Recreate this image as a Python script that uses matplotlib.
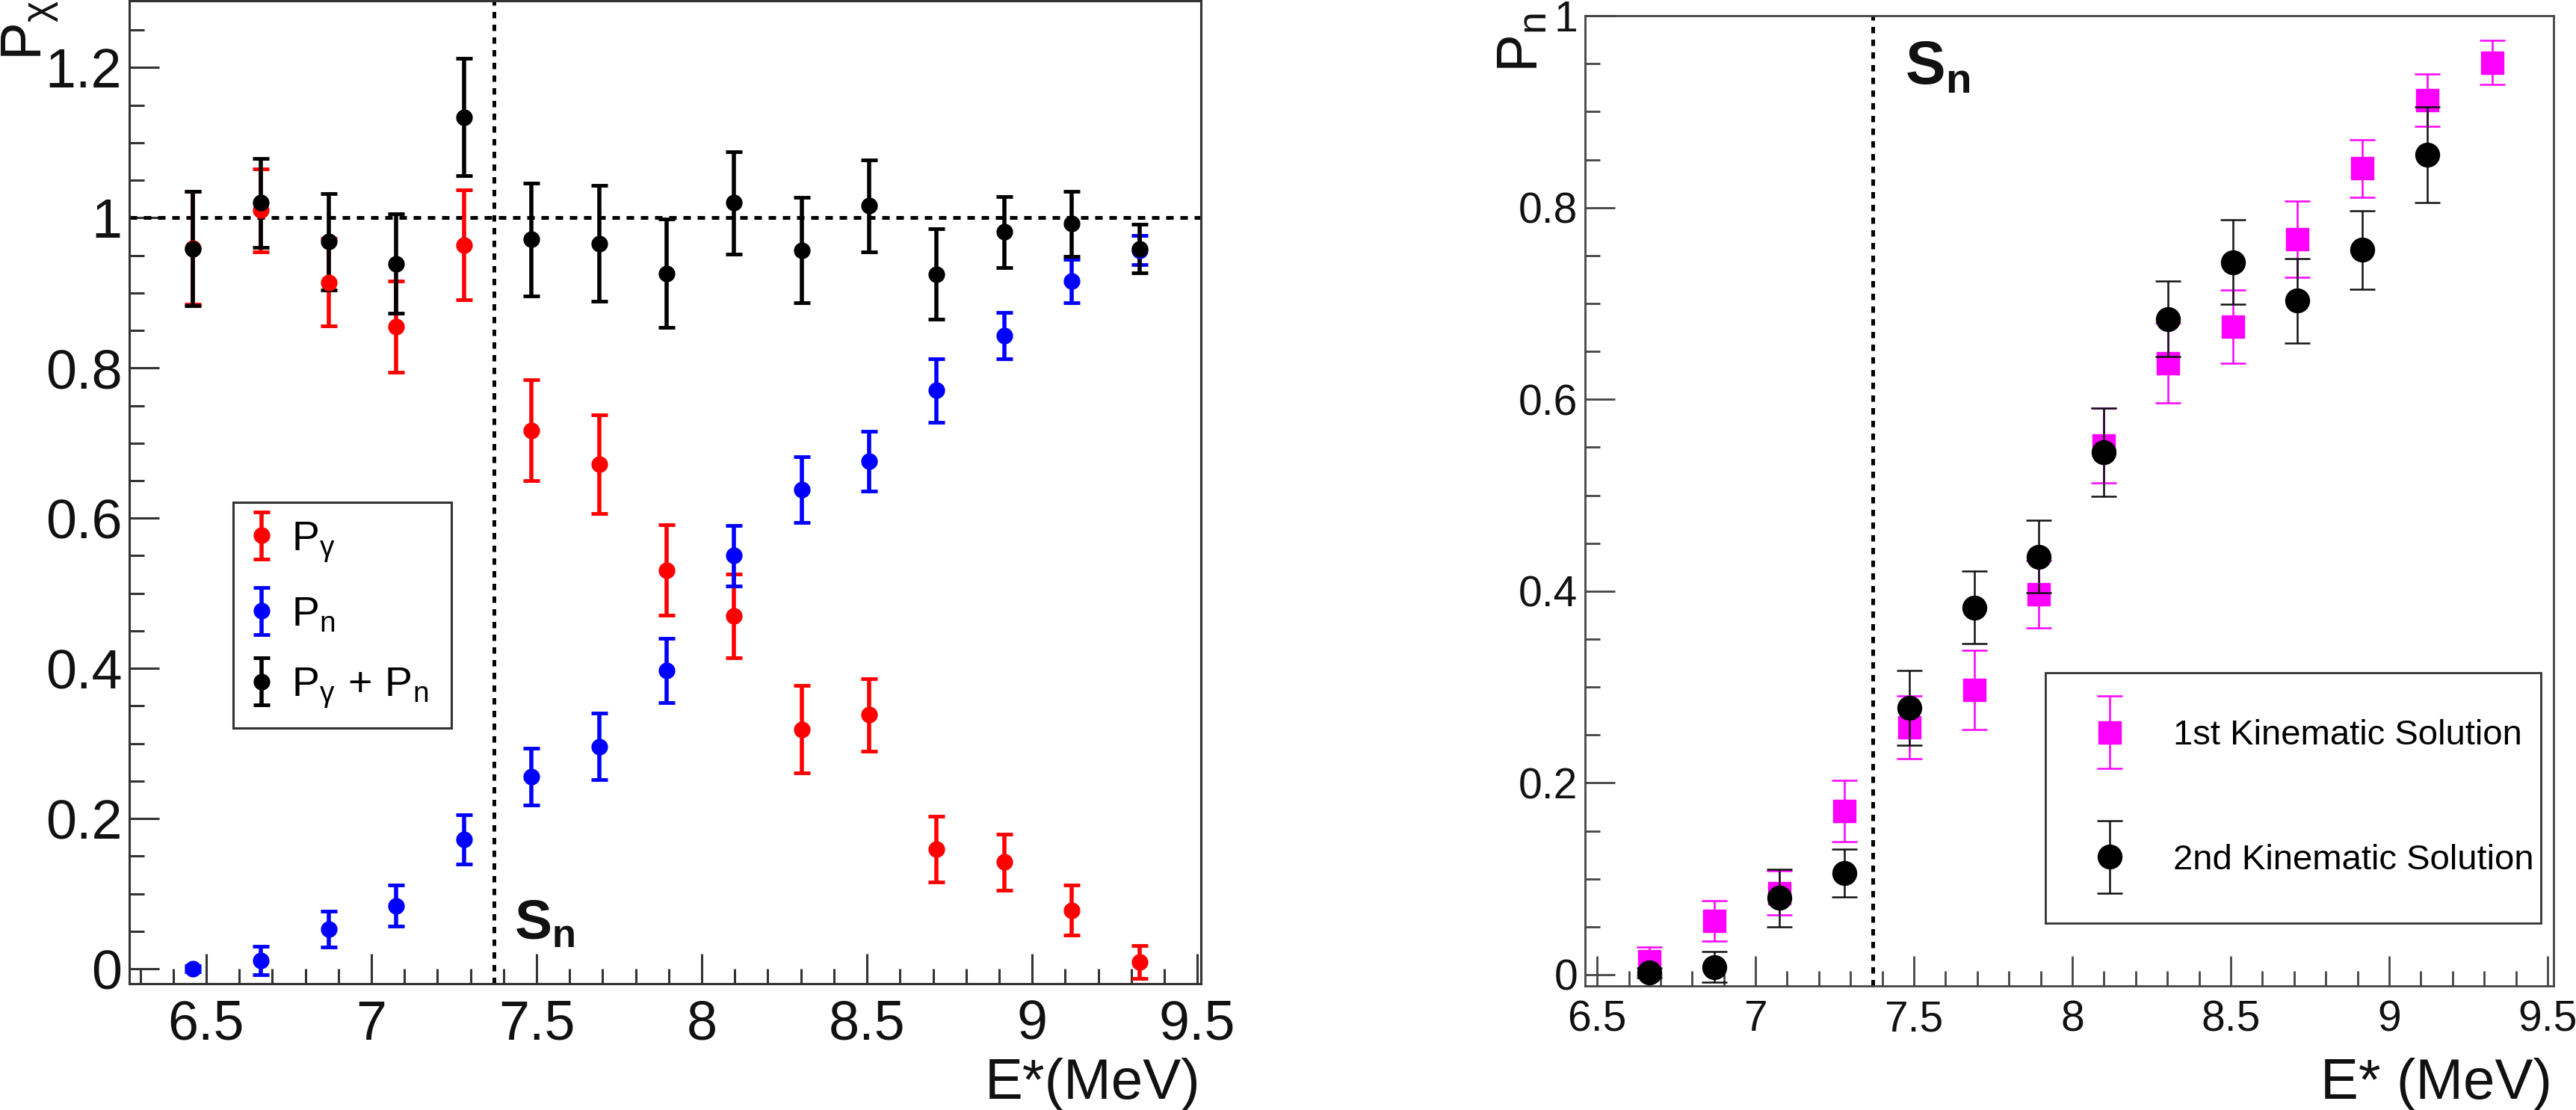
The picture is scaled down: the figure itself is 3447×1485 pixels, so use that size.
import matplotlib
matplotlib.use('Agg')
import matplotlib.pyplot as plt
from matplotlib.ticker import MultipleLocator, FuncFormatter
from matplotlib.legend_handler import HandlerErrorbar
from matplotlib.container import ErrorbarContainer

plt.rcParams['font.family'] = ['Liberation Sans', 'DejaVu Sans']
plt.rcParams['mathtext.fontset'] = 'custom'
plt.rcParams['mathtext.rm'] = 'Liberation Sans'
plt.rcParams['mathtext.it'] = 'Liberation Sans'
plt.rcParams['mathtext.bf'] = 'Liberation Sans:bold'
plt.rcParams['mathtext.default'] = 'regular'

# ---------------- data ----------------
energy = [6.46, 6.665, 6.87, 7.075, 7.28, 7.485, 7.69, 7.893, 8.098, 8.302,
          8.506, 8.711, 8.916, 9.12, 9.325]
p_gamma = [0.960, 1.010, 0.914, 0.855, 0.964, 0.717, 0.672, 0.531, 0.470, 0.319,
           0.338, 0.159, 0.142, 0.078, 0.009]
p_gamma_err = [0.075, 0.055, 0.058, 0.061, 0.073, 0.067, 0.066, 0.060, 0.056, 0.058,
               0.048, 0.044, 0.037, 0.033, 0.022]
p_n = [0.000, 0.011, 0.053, 0.084, 0.172, 0.256, 0.296, 0.397, 0.550, 0.638,
       0.676, 0.770, 0.843, 0.916, 0.957]
p_n_err = [0.004, 0.019, 0.024, 0.027, 0.033, 0.038, 0.044, 0.043, 0.040, 0.044,
           0.040, 0.042, 0.031, 0.029, 0.019]
p_sum = [0.959, 1.020, 0.968, 0.939, 1.134, 0.971, 0.966, 0.926, 1.020, 0.957,
         1.016, 0.925, 0.981, 0.992, 0.959]
p_sum_err = [0.076, 0.059, 0.064, 0.066, 0.078, 0.075, 0.077, 0.072, 0.068, 0.070,
             0.061, 0.060, 0.047, 0.043, 0.032]

energy_sol1 = [6.665, 6.87, 7.075, 7.28, 7.485, 7.69, 7.893, 8.098, 8.302, 8.506,
               8.711, 8.916, 9.12, 9.325]
pn_sol1 = [0.014, 0.056, 0.085, 0.171, 0.258, 0.297, 0.397, 0.552, 0.638, 0.676,
           0.767, 0.841, 0.912, 0.951]
pn_sol1_err = [0.015, 0.021, 0.023, 0.032, 0.033, 0.041, 0.035, 0.039, 0.042, 0.038,
               0.040, 0.030, 0.027, 0.023]
energy_sol2 = [6.665, 6.87, 7.075, 7.28, 7.485, 7.69, 7.893, 8.098, 8.302, 8.506,
               8.711, 8.916, 9.12]
pn_sol2 = [0.002, 0.008, 0.080, 0.106, 0.278, 0.383, 0.436, 0.545, 0.684, 0.743,
           0.703, 0.756, 0.855]
pn_sol2_err = [0.005, 0.016, 0.030, 0.025, 0.039, 0.038, 0.038, 0.046, 0.039, 0.044,
               0.044, 0.041, 0.050]

s_n = 7.37

legend_left = [r'$P_{\gamma}$', r'$P_{n}$', r'$P_{\gamma}\,+\,P_{n}$']
legend_right = ['1st Kinematic Solution', '2nd Kinematic Solution']

# ---------------- figure ----------------
W, H = 3448, 1485
fig = plt.figure(figsize=(W / 100, H / 100), dpi=100)


def fx(px):
    return px / W


def fy(py):
    return 1 - py / H


axL = fig.add_axes([fx(173), fy(1316), fx(1607) - fx(173), fy(1) - fy(1316)])
axR = fig.add_axes([fx(2121), fy(1319), fx(3417) - fx(2121), fy(21) - fy(1319)])

fmt = FuncFormatter(lambda v, p: '%g' % round(v, 3))


def style_axes(ax, color, lw, labelsize, xpad, ypad):
    for sp in ax.spines.values():
        sp.set_color(color)
        sp.set_linewidth(lw)
    ax.xaxis.set_major_locator(MultipleLocator(0.5))
    ax.xaxis.set_minor_locator(MultipleLocator(0.1))
    ax.yaxis.set_major_locator(MultipleLocator(0.2))
    ax.yaxis.set_minor_locator(MultipleLocator(0.05))
    ax.xaxis.set_major_formatter(fmt)
    ax.yaxis.set_major_formatter(fmt)
    ax.tick_params(which='both', direction='in', top=False, right=False,
                   color=color, width=lw, labelsize=labelsize, labelcolor='#111111')
    ax.tick_params(which='major', length=29)
    ax.tick_params(which='minor', length=14.5)
    ax.tick_params(axis='x', which='both', pad=xpad)
    ax.tick_params(axis='y', which='both', pad=ypad)


# ---------- left panel ----------
eb_kw = dict(fmt='o', markersize=15, elinewidth=4, capsize=8, capthick=3.5, zorder=3)
h1 = axL.errorbar(energy, p_gamma, yerr=p_gamma_err, color='#ff0000', **eb_kw)
h2 = axL.errorbar(energy, p_n, yerr=p_n_err, color='#0000ff', **eb_kw)
h3 = axL.errorbar(energy, p_sum, yerr=p_sum_err, color='#000000', **eb_kw)

axL.axhline(1.0, color='black', lw=3.6, ls=(0, (2.0, 1.8)), zorder=2)
axL.axvline(s_n, color='black', lw=3.6, ls=(0, (1.7, 1.7)), zorder=2)
axL.set_xlim(6.267, 9.511)
axL.set_ylim(-0.0199, 1.289)
style_axes(axL, '#333333', 2.2, 53, 15, 7)

axL.text(7.432, 0.093, r'$\mathbf{S}_{\mathbf{n}}$', fontsize=54, ha='left', va='top',
         color='#111111')

legL = axL.legend([h1, h2, h3], legend_left, loc='upper left',
                  bbox_to_anchor=(0.097, 0.273, 0.2036, 0.2167), mode='expand',
                  fontsize=40, frameon=True, fancybox=False, framealpha=1,
                  edgecolor='#333333', borderpad=0.43, handlelength=0.5,
                  handletextpad=0.47, labelspacing=0.76, borderaxespad=0,
                  handler_map={ErrorbarContainer: HandlerErrorbar(yerr_size=0.57)})
legL.get_frame().set_linewidth(2.2)

fig.text(fx(1607), fy(1470), 'E*(MeV)', fontsize=55, ha='right', va='baseline',
         color='#111111')
fig.text(fx(0), fy(0), r'$P_{\chi}$', fontsize=55, rotation=90, ha='left', va='top',
         color='#111111')

# ---------- right panel ----------
r1 = axR.errorbar(energy_sol1, pn_sol1, yerr=pn_sol1_err, fmt='s', color='#ff00ff',
                  markersize=22, elinewidth=1.8, capsize=12, capthick=1.8, zorder=3)
r2 = axR.errorbar(energy_sol2, pn_sol2, yerr=pn_sol2_err, fmt='o', color='#000000',
                  ecolor='#111111', markersize=23, elinewidth=1.8, capsize=12,
                  capthick=1.8, zorder=4)
axR.axvline(s_n, color='black', lw=3.6, ls=(0, (1.7, 1.7)), zorder=2)
axR.set_xlim(6.462, 9.519)
axR.set_ylim(-0.0117, 1.0001)
style_axes(axR, '#444444', 2.0, 41, 13, 7)

axR.text(7.472, 0.975, r'$\mathbf{S}_{\mathbf{n}}$', fontsize=58, ha='left', va='top',
         color='#111111')

legR = axR.legend([r1, r2], legend_right, loc='upper left',
                  bbox_to_anchor=(0.475, 0.077, 0.512, 0.246), mode='expand',
                  fontsize=34, frameon=True, fancybox=False, framealpha=1,
                  edgecolor='#333333', borderpad=1.32, handlelength=1.02,
                  handletextpad=1.29, labelspacing=2.6, borderaxespad=0,
                  handler_map={ErrorbarContainer: HandlerErrorbar(yerr_size=1.03)})
legR.get_frame().set_linewidth(2.0)

fig.text(fx(3415), fy(1470), 'E* (MeV)', fontsize=55, ha='right', va='baseline',
         color='#111111')
fig.text(fx(2002), fy(17), r'$P_{n}$', fontsize=55, rotation=90, ha='left', va='top',
         color='#111111')

fig.savefig('out.png', dpi=100)
